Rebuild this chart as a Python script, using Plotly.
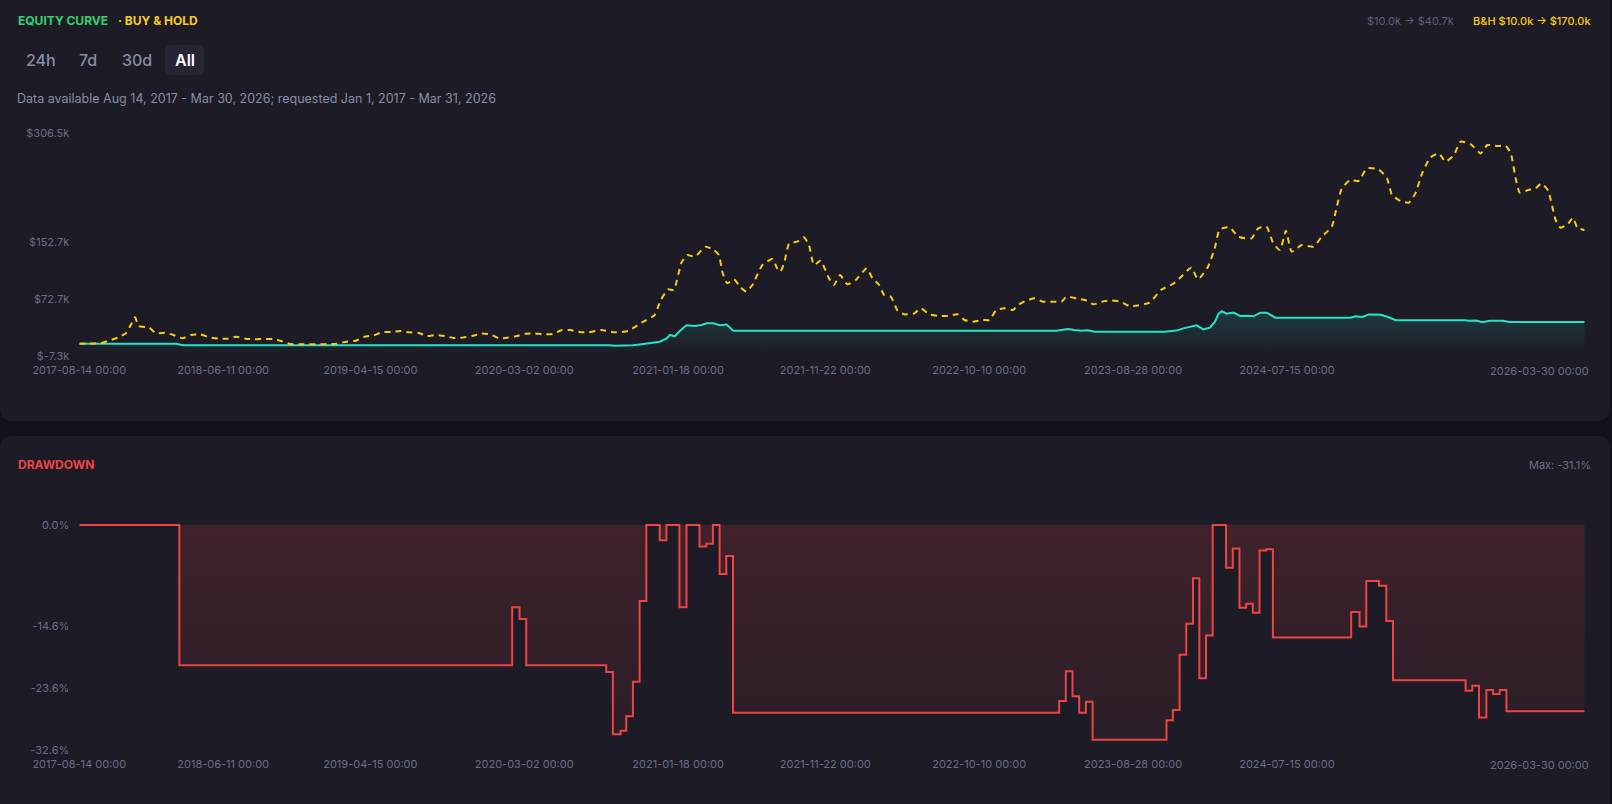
import numpy as np
import pandas as pd
import plotly.graph_objects as go

# ---------------- data ----------------
START = "2017-08-14"

# Buy & hold equity ($k), x = weeks since START
bh_weeks = [0, 3.2, 6.2, 8.7, 11.5, 13.9, 15.4, 16.7, 17.7, 20.9,
            23.0, 25.6, 28.1, 30.9, 33.3, 36.1, 38.9, 41.6, 44.3, 46.8,
            49.6, 52.3, 55.1, 57.9, 60.4, 63.0, 66.0, 68.7, 71.5, 74.3,
            77.0, 79.9, 82.7, 85.2, 88.0, 90.7, 93.3, 96.0, 98.4, 101.3,
            103.9, 106.6, 109.2, 111.9, 114.7, 117.4, 120.2, 122.9, 125.4, 128.1,
            130.9, 133.4, 136.1, 138.8, 141.5, 144.3, 146.8, 149.5, 152.3, 156.0,
            160.0, 164.0, 168.0, 172.0, 173.8, 176.0, 177.7, 180.0, 181.7, 184.0,
            187.2, 189.7, 191.2, 192.2, 193.7, 195.7, 197.7, 199.4, 201.2, 204.2,
            207.2, 208.6, 209.6, 210.8, 212.2, 214.6, 216.6, 218.1, 219.6, 221.6,
            224.1, 225.6, 227.4, 229.6, 232.1, 235.4, 237.1, 239.1, 240.6, 242.6,
            244.6, 246.6, 249.6, 251.6, 254.1, 257.1, 259.6, 262.6, 264.6, 267.1,
            270.1, 272.1, 274.1, 276.6, 279.1, 280.6, 283.1, 285.6, 288.1, 291.1,
            293.6, 295.1, 298.1, 300.6, 303.1, 306.4, 308.4, 311.4, 313.9, 316.4,
            319.9, 323.4, 326.9, 329.4, 332.4, 334.4, 337.4, 339.4, 340.9, 343.9,
            346.4, 350.4, 352.4, 354.9, 356.9, 358.9, 360.7, 362.4, 365.4, 368.9,
            371.4, 374.4, 375.9, 377.4, 379.9, 382.4, 384.9, 388.4, 390.9, 392.4,
            394.9, 397.4, 399.4, 401.4, 403.9, 406.4, 408.4, 410.9, 412.9, 415.9,
            418.9, 420.9, 423.9, 426.4, 427.9, 429.5, 430.6, 433.1, 435.3, 437.1,
            439.1, 439.9, 440.6, 441.3, 442.8, 445.0, 446.5, 447.8, 450.0]
bh_values_k = [10.0, 10.3, 10.3, 14.3, 18.5, 24.6, 36.4, 47.2, 35.0, 32.6,
               24.6, 25.5, 22.3, 17.6, 22.3, 23.2, 19.0, 17.1, 17.1, 19.9,
               17.1, 16.2, 16.7, 16.7, 13.8, 9.6, 9.1, 9.1, 9.1, 9.6,
               10.1, 12.9, 14.3, 19.9, 21.8, 26.5, 26.5, 27.9, 26.1, 25.5,
               20.9, 22.3, 20.9, 18.1, 18.6, 20.9, 24.2, 23.2, 17.6, 18.6,
               20.9, 24.2, 24.6, 23.2, 23.7, 29.3, 29.3, 26.5, 26.0, 29.3,
               26.1, 27.9, 39.6, 50.5, 71.6, 86.6, 85.7, 124.2, 135.0, 132.6,
               146.7, 142.1, 135.0, 111.5, 95.1, 100.7, 89.4, 83.3, 92.7, 120.9,
               129.4, 116.2, 111.5, 125.6, 151.4, 153.8, 159.9, 149.1, 120.9, 127.0,
               102.1, 92.7, 106.8, 93.7, 99.8, 116.2, 102.1, 92.7, 78.6, 76.3,
               56.6, 51.4, 52.8, 59.9, 51.4, 49.1, 49.1, 51.4, 43.4, 41.1,
               43.4, 43.4, 57.5, 59.9, 57.5, 64.6, 70.7, 73.9, 69.2, 69.2,
               69.2, 76.3, 73.9, 71.6, 65.5, 70.0, 71.0, 69.0, 63.0, 64.0,
               68.0, 86.0, 94.1, 104.5, 117.2, 100.7, 118.6, 144.4, 171.2, 174.0,
               160.8, 158.5, 172.6, 174.9, 151.5, 142.1, 169.3, 139.7, 149.1, 146.7,
               160.8, 174.9, 203.1, 228.9, 240.7, 239.3, 257.1, 255.7, 243.0, 219.5,
               211.1, 208.7, 221.9, 250.1, 272.6, 278.2, 266.5, 275.9, 294.7, 291.4,
               278.2, 290.0, 288.6, 288.6, 278.2, 240.0, 222.8, 226.6, 228.9, 236.0,
               225.6, 211.5, 197.4, 184.3, 173.5, 178.7, 187.6, 173.5, 170.0]

# Strategy equity ($k)
eq_weeks = [0, 29.0, 31.0, 129.0, 130.5, 132.5, 134.0, 157.0, 158.5, 160.0,
            162.0, 163.5, 165.5, 167.5, 169.5, 171.5, 173.5, 175.5, 176.5, 178.0,
            179.5, 181.5, 184.0, 186.0, 187.5, 189.5, 191.5, 193.5, 195.5, 292.0,
            293.5, 295.5, 297.5, 299.5, 301.5, 303.5, 324.5, 326.0, 328.0, 330.0,
            332.0, 334.0, 336.0, 338.0, 339.5, 340.5, 341.5, 343.0, 345.0, 347.0,
            349.0, 351.0, 353.0, 355.0, 357.5, 380.0, 381.5, 383.5, 385.5, 389.0,
            391.0, 393.5, 414.0, 415.5, 417.5, 419.5, 421.5, 423.5, 425.5, 427.5,
            450.0]
eq_values_k = [10.0, 10.0, 7.97, 7.97, 8.8, 8.6, 7.97, 7.97, 7.9, 7.0,
               7.0, 7.2, 7.7, 8.9, 10.5, 12.0, 12.9, 17.0, 22.3, 20.5,
               28.0, 35.9, 35.0, 36.4, 38.7, 38.9, 36.2, 37.2, 28.3, 28.3,
               29.0, 30.7, 29.3, 28.3, 28.9, 26.8, 26.8, 27.9, 28.5, 31.6,
               33.3, 35.9, 30.3, 32.7, 41.0, 52.0, 55.8, 52.3, 53.9, 49.1,
               49.4, 48.7, 53.7, 53.8, 46.7, 46.7, 48.8, 47.6, 51.3, 50.9,
               48.0, 43.2, 43.2, 42.4, 42.8, 40.2, 42.5, 42.1, 42.5, 40.7,
               40.7]

# Drawdown (%) step breakpoints
dd_weeks = [0, 29.9, 129.4, 131.6, 133.6, 157.5, 159.5, 161.8, 163.5, 165.5,
            167.5, 169.5, 173.5, 175.5, 179.4, 181.5, 185.4, 187.4, 189.4, 191.4,
            193.4, 195.4, 292.9, 294.9, 296.9, 298.9, 300.9, 302.9, 325.0, 326.9,
            328.9, 330.9, 332.9, 334.8, 336.8, 338.8, 342.8, 344.8, 346.8, 348.8,
            350.8, 352.8, 354.8, 356.8, 380.2, 382.7, 384.7, 388.5, 390.7, 392.7,
            414.4, 416.4, 418.4, 420.6, 422.6, 424.6, 426.6, 450]
dd_values = [0, -20.3, -11.9, -13.6, -20.3, -21.3, -30.3, -29.8, -27.7, -22.7,
             -11.0, 0, -2.2, 0, -11.9, 0, -3.1, -2.7, 0, -7.1,
             -4.5, -27.2, -25.5, -21.2, -24.8, -27.2, -25.6, -31.1, -28.3, -26.8,
             -18.8, -14.3, -7.7, -22.2, -16.0, 0, -6.2, -3.4, -12.0, -11.4,
             -12.7, -3.7, -3.5, -16.3, -12.6, -14.7, -8.1, -8.8, -13.9, -22.5,
             -24.0, -23.3, -27.9, -23.9, -24.5, -23.9, -27.0, -27.0]

x_tick_dates = ["2017-08-14", "2018-06-11", "2019-04-15", "2020-03-02", "2021-01-18",
                "2021-11-22", "2022-10-10", "2023-08-28", "2024-07-15"]
x_tick_labels = ["2017-08-14 00:00", "2018-06-11 00:00", "2019-04-15 00:00", "2020-03-02 00:00",
                 "2021-01-18 00:00", "2021-11-22 00:00", "2022-10-10 00:00", "2023-08-28 00:00",
                 "2024-07-15 00:00"]
x_last_label = "2026-03-30 00:00"

eq_tickvals = [-7.3, 72.7, 152.7, 306.5]
eq_ticktext = ["$-7.3k", "$72.7k", "$152.7k", "$306.5k"]
dd_tickvals = [0, -14.6, -23.6, -32.6]
dd_ticktext = ["0.0%", "-14.6%", "-23.6%", "-32.6%"]

# ---------------- style ----------------
W, H = 1612, 804
PAGE = "#121119"
CARD = "#1c1b26"
TEAL = "#27e3c5"
YELLOW = "#facc15"
RED = "#ef4444"
GREEN = "#2fd36f"
TICK = "#6b6f88"
MUTED = "#8a8da6"
FONT = "Inter, 'Noto Sans', sans-serif"


def to_dates(weeks):
    return pd.Timestamp(START) + pd.to_timedelta(np.asarray(weeks, dtype=float) * 7, unit="D")


def fx(x):
    return x / W


def fy(y):
    return 1 - y / H


def rrect(x0, y0, x1, y1, r):
    def P(x, y):
        return f"{fx(x):.6f},{fy(y):.6f}"
    return (f"M {P(x0 + r, y0)} L {P(x1 - r, y0)} Q {P(x1, y0)} {P(x1, y0 + r)} "
            f"L {P(x1, y1 - r)} Q {P(x1, y1)} {P(x1 - r, y1)} "
            f"L {P(x0 + r, y1)} Q {P(x0, y1)} {P(x0, y1 - r)} "
            f"L {P(x0, y0 + r)} Q {P(x0, y0)} {P(x0 + r, y0)} Z")


PLOT_X0, PLOT_X1 = 79.3, 1584.7
EQ_Y0, EQ_Y1 = 133.3, 356.0   # top/bottom pixel of equity plot
DD_Y0, DD_Y1 = 523.0, 750.0   # top/bottom pixel of drawdown plot

fig = go.Figure()

fig.add_trace(go.Scatter(
    x=to_dates(eq_weeks), y=eq_values_k, mode="lines",
    line=dict(color=TEAL, width=2),
    fill="tozeroy",
    fillgradient=dict(type="vertical", start=-7.3, stop=56,
                      colorscale=[[0, "rgba(39,227,197,0.0)"], [1, "rgba(39,227,197,0.16)"]]),
    xaxis="x", yaxis="y", hoverinfo="skip", showlegend=False))

fig.add_trace(go.Scatter(
    x=to_dates(bh_weeks), y=bh_values_k, mode="lines",
    line=dict(color=YELLOW, width=2, dash="6px,5px", shape="spline", smoothing=0.5),
    xaxis="x", yaxis="y", hoverinfo="skip", showlegend=False))

fig.add_trace(go.Scatter(
    x=to_dates(dd_weeks), y=dd_values, mode="lines",
    line=dict(color=RED, width=2, shape="hv"),
    fill="tozeroy",
    fillgradient=dict(type="vertical", start=-32.6, stop=0,
                      colorscale=[[0, "rgba(239,68,68,0.06)"], [1, "rgba(239,68,68,0.17)"]]),
    xaxis="x2", yaxis="y2", hoverinfo="skip", showlegend=False))

xr = [to_dates([0])[0], to_dates([450])[0]]
xcommon = dict(type="date", range=xr, showgrid=False, zeroline=False, showline=False,
               ticks="", tickvals=x_tick_dates, ticktext=x_tick_labels, automargin=False,
               tickfont=dict(family=FONT, size=11, color=TICK), ticklabelstandoff=6,
               domain=[fx(PLOT_X0), fx(PLOT_X1)])
ycommon = dict(showgrid=False, zeroline=False, showline=False, ticks="", automargin=False,
               tickfont=dict(family=FONT, size=11, color=TICK), ticklabelstandoff=9)

shapes = [
    dict(type="path", xref="paper", yref="paper", path=rrect(0, -14, 1610, 420.7, 12),
         fillcolor=CARD, line=dict(width=0), layer="below"),
    dict(type="path", xref="paper", yref="paper", path=rrect(0, 436, 1610, 830, 12),
         fillcolor=CARD, line=dict(width=0), layer="below"),
    dict(type="path", xref="paper", yref="paper", path=rrect(165, 45, 204, 75, 6),
         fillcolor="#262533", line=dict(width=0), layer="below"),
]


def ann(text, x, y, color, size=11, anchor="left", weight=400):
    return dict(text=text, x=fx(x), y=fy(y), xref="paper", yref="paper",
                xanchor=anchor, yanchor="middle", showarrow=False,
                font=dict(family=FONT, size=size, color=color, weight=weight))


annotations = [
    ann("EQUITY CURVE", 16, 20, GREEN, 12, weight=700),
    ann("· BUY & HOLD", 116, 20, YELLOW, 12, weight=700),
    ann("24h", 40.5, 60, MUTED, 16, anchor="center", weight=500),
    ann("7d", 88, 60, MUTED, 16, anchor="center", weight=500),
    ann("30d", 137, 60, MUTED, 16, anchor="center", weight=500),
    ann("All", 184.5, 60, "#ffffff", 16, anchor="center", weight=600),
    ann("Data available Aug 14, 2017 - Mar 30, 2026; requested Jan 1, 2017 - Mar 31, 2026",
        15, 99, MUTED, 12.5),
    ann("B&H $10.0k → $170.0k", 1593, 21, YELLOW, 11, anchor="right", weight=500),
    ann("$10.0k → $40.7k", 1456, 21, "#5d6079", 11, anchor="right"),
    ann("DRAWDOWN", 16, 465, RED, 12, weight=700),
    ann("Max: -31.1%", 1593, 465, TICK, 11, anchor="right"),
    ann(x_last_label, 1591, 371, TICK, 11, anchor="right"),
    ann(x_last_label, 1591, 765, TICK, 11, anchor="right"),
]

fig.update_layout(
    width=W, height=H, autosize=False,
    margin=dict(l=0, r=0, t=0, b=0, autoexpand=False),
    paper_bgcolor=PAGE, plot_bgcolor="rgba(0,0,0,0)",
    font=dict(family=FONT, color=TICK),
    showlegend=False,
    xaxis=dict(xcommon, anchor="y"),
    yaxis=dict(ycommon, anchor="x", domain=[fy(EQ_Y1), fy(EQ_Y0)], range=[-7.3, 306.5],
               tickvals=eq_tickvals, ticktext=eq_ticktext),
    xaxis2=dict(xcommon, anchor="y2"),
    yaxis2=dict(ycommon, anchor="x2", domain=[fy(DD_Y1), fy(DD_Y0)], range=[-32.6, 0.3],
                tickvals=dd_tickvals, ticktext=dd_ticktext),
    shapes=shapes,
    annotations=annotations,
)

fig.write_html("out.html", include_plotlyjs=True, full_html=True,
               config={"displayModeBar": False})
with open("out.html", encoding="utf-8") as f:
    html = f.read()
html = html.replace("<head>", "<head><style>html,body{margin:0;padding:0;background:#121119;overflow:hidden;}</style>", 1)
with open("out.html", "w", encoding="utf-8") as f:
    f.write(html)
